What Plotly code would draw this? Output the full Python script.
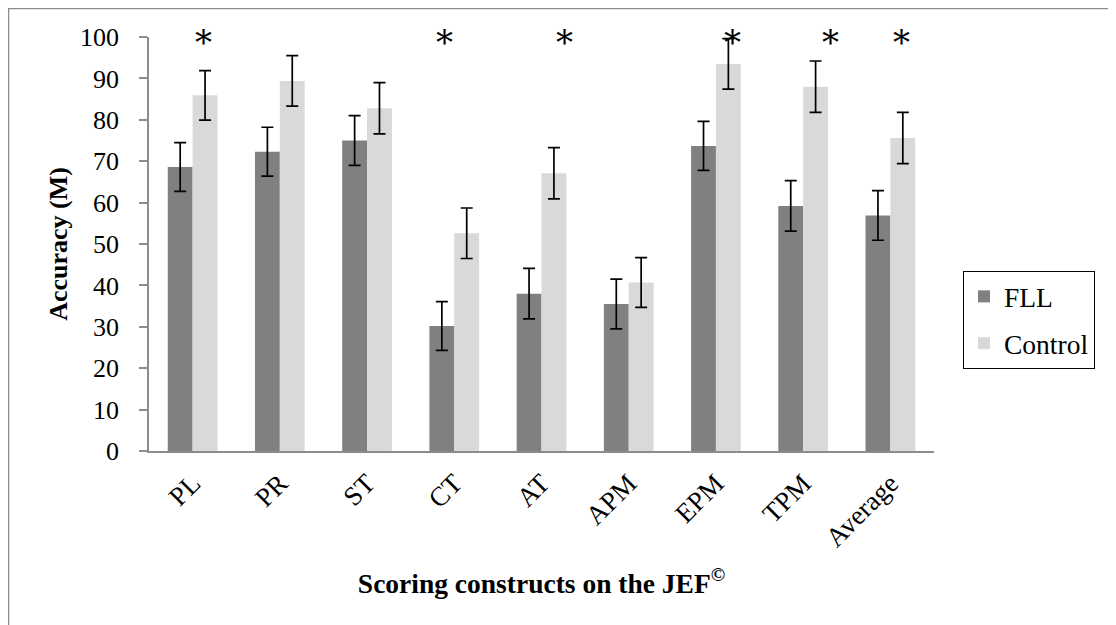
import plotly.graph_objects as go

# ---- data ----
categories = ["PL", "PR", "ST", "CT", "AT", "APM", "EPM", "TPM", "Average"]
fll_mean = [68.6, 72.3, 75.0, 30.2, 38.0, 35.5, 73.7, 59.2, 56.9]
control_mean = [85.9, 89.4, 82.8, 52.6, 67.1, 40.7, 93.5, 88.0, 75.6]
fll_err = [5.9, 5.9, 6.0, 5.9, 6.1, 6.0, 5.9, 6.1, 6.0]
control_err = [6.0, 6.1, 6.2, 6.1, 6.2, 6.0, 6.1, 6.2, 6.2]
significant = ["PL", "CT", "AT", "EPM", "TPM", "Average"]
y_ticks = [0, 10, 20, 30, 40, 50, 60, 70, 80, 90, 100]

# ---- style ----
FONT = "Liberation Serif, Times New Roman, serif"
STAR_FONT = "DejaVu Serif"
star_xshift = [11, -10, 23, 17, 27, 11]   # pixel nudges for the asterisks

# page body has an 8px margin, so the figure is sized to end at the window edge
W, H = 1108, 617
ML, MR, MT, MB = 141, 182, 29, 174
pw, ph = W - ML - MR, H - MT - MB

fig = go.Figure()
fig.add_trace(go.Bar(
    x=categories, y=fll_mean, name="FLL",
    marker=dict(color="#808080", line=dict(width=0)),
    error_y=dict(type="data", array=fll_err, visible=True,
                 color="black", thickness=1.7, width=6),
    legendgroup="a",
))
fig.add_trace(go.Bar(
    x=categories, y=control_mean, name="Control",
    marker=dict(color="#d9d9d9", line=dict(width=0)),
    error_y=dict(type="data", array=control_err, visible=True,
                 color="black", thickness=1.7, width=6),
    legendgroup="b",
))

for cat, dx in zip(significant, star_xshift):
    fig.add_annotation(x=cat, y=100, xref="x", yref="y", text="*",
                       showarrow=False, xshift=dx, yshift=-5,
                       yanchor="middle", xanchor="center",
                       font=dict(family=STAR_FONT, size=34, color="black"))


def px_to_paper_x(px):
    return (px - ML) / pw


def px_to_paper_y(py):
    return (H - MB - py) / ph


# outer chart border
fig.add_shape(type="rect", xref="paper", yref="paper",
              x0=px_to_paper_x(0.5), x1=px_to_paper_x(1107),
              y0=px_to_paper_y(660), y1=px_to_paper_y(0.5),
              line=dict(color="#8c8c8c", width=1.5), fillcolor="rgba(0,0,0,0)",
              layer="below")

fig.update_layout(
    width=W, height=H,
    margin=dict(l=ML, r=MR, t=MT, b=MB, autoexpand=False),
    paper_bgcolor="white", plot_bgcolor="white",
    barmode="group", bargap=0.43, bargroupgap=0,
    font=dict(family=FONT, color="black"),
    showlegend=True,
    legend=dict(x=px_to_paper_x(955), y=px_to_paper_y(263),
                xanchor="left", yanchor="top",
                bordercolor="black", borderwidth=1, bgcolor="white",
                font=dict(family=FONT, size=27.5, color="black"),
                traceorder="grouped", tracegroupgap=8,
                itemwidth=30),
    xaxis=dict(
        type="category", showline=True, linecolor="#8c8c8c", linewidth=1.5,
        ticks="", tickangle=-45, showgrid=False, zeroline=False,
        ticklabelstandoff=4,
        tickfont=dict(family=FONT, size=27, color="black"),
        title=dict(text="<b>Scoring constructs on the JEF<sup>©</sup></b>",
                   font=dict(family=FONT, size=27.5, color="black"), standoff=22),
    ),
    yaxis=dict(
        range=[0, 100], tickvals=y_ticks, showline=True, linecolor="#8c8c8c",
        linewidth=1.5, ticks="outside", ticklen=8, tickcolor="#8c8c8c",
        tickwidth=1.5, showgrid=False, zeroline=False, ticklabelstandoff=15,
        tickfont=dict(family=FONT, size=26, color="black"),
        title=dict(text="<b>Accuracy (M)</b>",
                   font=dict(family=FONT, size=26, color="black"), standoff=5),
    ),
)

fig.write_html("out.html")
